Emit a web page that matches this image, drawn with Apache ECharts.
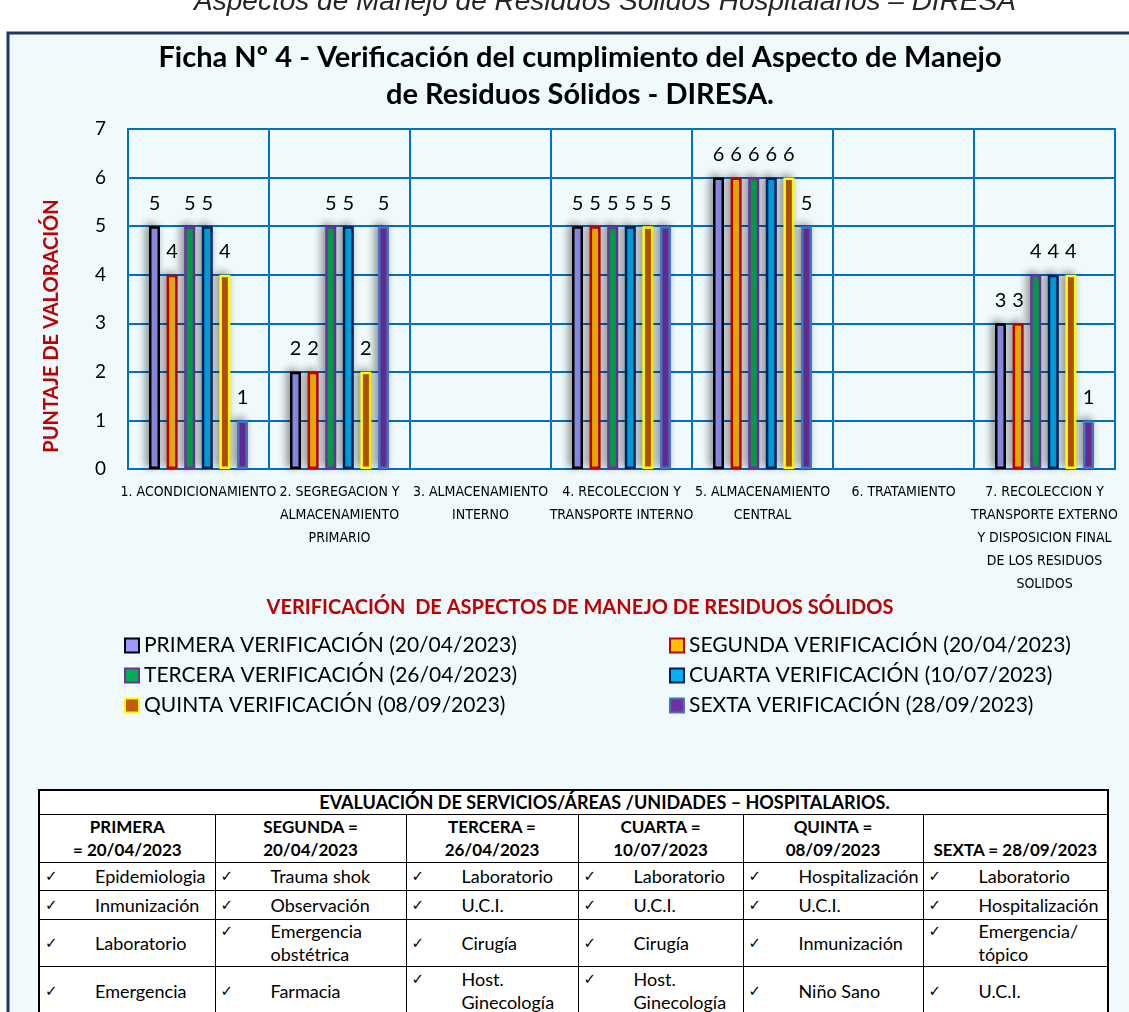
<!DOCTYPE html>
<html>
<head>
<meta charset="utf-8">
<title>Ficha Nº 4 - Residuos Sólidos</title>
<script src="https://cdn.jsdelivr.net/npm/echarts@6/dist/echarts.min.js"></script>
<style>
  body { margin: 0; background: #fff; }
  #wrap { position: relative; width: 1129px; height: 1012px; overflow: hidden; }
  #chart { position: absolute; left: 0; top: 0; width: 1129px; height: 1012px; }
  #tabla {
    position: absolute; left: 38px; top: 789px; width: 1069px;
    border-collapse: collapse; table-layout: fixed; background: #fff;
    border: 2px solid #000; font-family: Lato, "Open Sans", sans-serif;
    font-size: 18px; color: #000;
  }
  #tabla td, #tabla th { border: 1px solid #000; padding: 0; overflow: hidden; }
  #tabla th { font-weight: bold; font-size: 17px; line-height: 23px; text-align: center; vertical-align: bottom; padding-bottom: 1px; }
  #tabla td { vertical-align: middle; line-height: 23px; }
  .celda { display: flex; align-items: flex-start; }
  .check { width: 55px; padding-left: 5px; box-sizing: border-box; font-family: "DejaVu Sans", sans-serif; font-size: 15px; flex: none; }
</style>
</head>
<body>
<div id="wrap">
  <div id="chart"></div>
  <table id="tabla"></table>
</div>
<script>
// categorias del eje X
var categorias = [
  '1. ACONDICIONAMIENTO',
  '2. SEGREGACION Y\nALMACENAMIENTO\nPRIMARIO',
  '3. ALMACENAMIENTO\nINTERNO',
  '4. RECOLECCION Y\nTRANSPORTE INTERNO',
  '5. ALMACENAMIENTO\nCENTRAL',
  '6. TRATAMIENTO',
  '7. RECOLECCION Y\nTRANSPORTE EXTERNO\nY DISPOSICION FINAL\nDE LOS RESIDUOS\nSOLIDOS'
];

// puntajes de cada verificacion (null = sin evaluar)
var primera = [5, 2, null, 5, 6, null, 3];
var segunda = [4, 2, null, 5, 6, null, 3];
var tercera = [5, 5, null, 5, 6, null, 4];
var cuarta  = [5, 5, null, 5, 6, null, 4];
var quinta  = [4, 2, null, 5, 6, null, 4];
var sexta   = [1, 5, null, 5, 5, null, 1];

var nombres = [
  'PRIMERA VERIFICACIÓN (20/04/2023)',
  'SEGUNDA VERIFICACIÓN (20/04/2023)',
  'TERCERA VERIFICACIÓN (26/04/2023)',
  'CUARTA VERIFICACIÓN (10/07/2023)',
  'QUINTA VERIFICACIÓN (08/09/2023)',
  'SEXTA VERIFICACIÓN (28/09/2023)'
];

var ticksY = [0, 1, 2, 3, 4, 5, 6, 7];

// tabla de servicios evaluados
var cabeceraTabla = ['PRIMERA<br>= 20/04/2023', 'SEGUNDA =<br>20/04/2023', 'TERCERA =<br>26/04/2023',
  'CUARTA =<br>10/07/2023', 'QUINTA =<br>08/09/2023', 'SEXTA = 28/09/2023'];
var serviciosPrimera = ['Epidemiologia', 'Inmunización', 'Laboratorio', 'Emergencia'];
var serviciosSegunda = ['Trauma shok', 'Observación', 'Emergencia<br>obstétrica', 'Farmacia'];
var serviciosTercera = ['Laboratorio', 'U.C.I.', 'Cirugía', 'Host.<br>Ginecología'];
var serviciosCuarta  = ['Laboratorio', 'U.C.I.', 'Cirugía', 'Host.<br>Ginecología'];
var serviciosQuinta  = ['Hospitalización', 'U.C.I.', 'Inmunización', 'Niño Sano'];
var serviciosSexta   = ['Laboratorio', 'Hospitalización', 'Emergencia/<br>tópico', 'U.C.I.'];

var colores = [
  { fill: '#9999ff', border: '#000000' },
  { fill: '#ffc000', border: '#c00000' },
  { fill: '#00b050', border: '#7030a0' },
  { fill: '#00b0f0', border: '#002060' },
  { fill: '#c55a11', border: '#ffff00' },
  { fill: '#7030a0', border: '#4472c4' }
];

var valores = [primera, segunda, tercera, cuarta, quinta, sexta];
var azul = '#0070c0';

var series = valores.map(function (datos, i) {
  return {
    name: nombres[i],
    type: 'bar',
    data: datos,
    barWidth: 11,
    barGap: '60%',
    itemStyle: {
      color: colores[i].fill,
      borderColor: colores[i].border,
      borderWidth: 2.5,
      shadowBlur: 8,
      shadowColor: 'rgba(0,0,0,0.4)',
      shadowOffsetX: -3,
      shadowOffsetY: -2
    },
    label: {
      show: true,
      position: 'top',
      distance: 13,
      fontSize: 20,
      color: '#000',
      fontFamily: 'Lato'
    }
  };
});

var chart = echarts.init(document.getElementById('chart'));
chart.setOption({
  backgroundColor: '#fff',
  textStyle: { fontFamily: 'Lato' },
  title: {
    text: 'Ficha Nº 4 - Verificación del cumplimiento del Aspecto de Manejo\nde Residuos Sólidos - DIRESA.',
    left: 580,
    top: 39,
    textAlign: 'center',
    padding: 0,
    textStyle: { fontSize: 29, fontWeight: 'bold', color: '#000', lineHeight: 37 }
  },
  graphic: [
    {
      type: 'rect', z: -10, silent: true,
      shape: { x: 8, y: 33, width: 1200, height: 1100 },
      style: { fill: '#f0f9fb', stroke: '#203864', lineWidth: 3 }
    },
    {
      type: 'text', x: 605, y: 16, silent: true,
      style: {
        text: 'Aspectos de Manejo de Residuos Sólidos Hospitalarios – DIRESA',
        font: 'italic 28px "Liberation Sans", Arial, sans-serif',
        fill: '#262626', align: 'center', verticalAlign: 'bottom'
      }
    },
    {
      type: 'text', x: 52, y: 326, rotation: Math.PI / 2, silent: true,
      style: {
        text: 'PUNTAJE DE VALORACIÓN',
        font: 'bold 20px Lato',
        fill: '#c00000', align: 'center', verticalAlign: 'middle'
      }
    },
    {
      type: 'text', x: 580, y: 608, silent: true,
      style: {
        text: 'VERIFICACIÓN  DE ASPECTOS DE MANEJO DE RESIDUOS SÓLIDOS',
        font: 'bold 20px Lato',
        fill: '#c00000', align: 'center', verticalAlign: 'middle'
      }
    }
  ],
  legend: [
    {
      orient: 'vertical', left: 124, top: 635, itemGap: 9, padding: 0,
      icon: 'rect', itemWidth: 14, itemHeight: 14,
      data: [nombres[0], nombres[2], nombres[4]],
      textStyle: { fontSize: 21, color: '#000', lineHeight: 21 }
    },
    {
      orient: 'vertical', left: 669, top: 635, itemGap: 9, padding: 0,
      icon: 'rect', itemWidth: 14, itemHeight: 14,
      data: [nombres[1], nombres[3], nombres[5]],
      textStyle: { fontSize: 21, color: '#000', lineHeight: 21 }
    }
  ],
  grid: {
    left: 128, right: 14, top: 129, bottom: 543,
    show: true, borderColor: azul, borderWidth: 2
  },
  xAxis: {
    type: 'category',
    data: categorias,
    axisTick: { show: false },
    axisLine: { lineStyle: { color: azul, width: 2 } },
    splitLine: { show: true, interval: 0, lineStyle: { color: azul, width: 2 } },
    axisLabel: {
      interval: 0,
      margin: 12,
      fontSize: 14,
      lineHeight: 23,
      color: '#000',
      fontFamily: '"Liberation Sans Narrow", "DejaVu Sans Condensed", sans-serif'
    }
  },
  yAxis: {
    type: 'value',
    min: ticksY[0],
    max: ticksY[ticksY.length - 1],
    interval: 1,
    axisLine: { show: false },
    axisTick: { show: false },
    splitLine: { lineStyle: { color: azul, width: 2 } },
    axisLabel: { fontSize: 19, color: '#000', margin: 22 }
  },
  series: series
});

// construir la tabla
var columnas = [serviciosPrimera, serviciosSegunda, serviciosTercera, serviciosCuarta, serviciosQuinta, serviciosSexta];
var anchos = [176, 191, 172, 165, 180, 185];
var altos = [28, 29, 45, 50];
var html = '<colgroup>' + anchos.map(function (w) { return '<col style="width:' + w + 'px">'; }).join('') + '</colgroup>';
html += '<tr style="height:23px"><th colspan="6" style="vertical-align:middle;padding:0 0 0 62px;font-size:18px">EVALUACIÓN DE SERVICIOS/ÁREAS /UNIDADES – HOSPITALARIOS.</th></tr>';
html += '<tr style="height:47px">' + cabeceraTabla.map(function (t) { return '<th>' + t + '</th>'; }).join('') + '</tr>';
for (var r = 0; r < 4; r++) {
  html += '<tr style="height:' + altos[r] + 'px">';
  for (var c = 0; c < 6; c++) {
    html += '<td><div class="celda"><span class="check">✓</span><span>' + columnas[c][r] + '</span></div></td>';
  }
  html += '</tr>';
}
document.getElementById('tabla').innerHTML = html;
</script>
</body>
</html>
